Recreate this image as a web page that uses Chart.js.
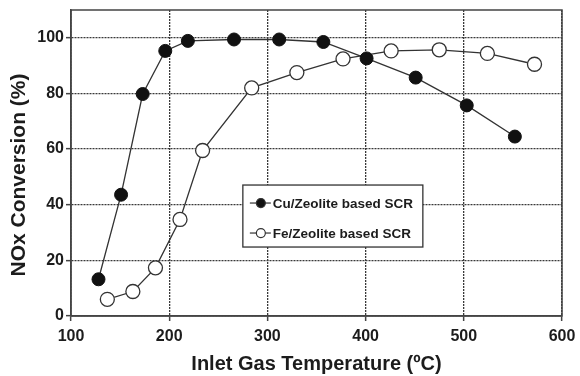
<!DOCTYPE html>
<html>
<head>
<meta charset="UTF-8">
<title>NOx Conversion</title>
<script src="https://cdn.jsdelivr.net/npm/chart.js"></script>
<style type="text/css">
	body { margin: 0; background: #fff; }
	#chartArea { width: 580px; height: 376px; }
</style>
<script>
	// temperature (ºC) / conversion (%) read per catalyst
	var cuTemp = [128, 151, 173, 196, 219, 266, 312, 357, 401, 451, 503, 552];
	var cuConv = [13.2, 43.6, 79.8, 95.3, 98.9, 99.4, 99.4, 98.5, 92.6, 85.7, 75.7, 64.5];
	var feTemp = [137, 163, 186, 211, 234, 284, 330, 377, 426, 475, 524, 572];
	var feConv = [6, 8.8, 17.3, 34.7, 59.5, 82, 87.5, 92.4, 95.3, 95.7, 94.4, 90.5];

	var seriesNames = ['Cu/Zeolite based SCR', 'Fe/Zeolite based SCR'];
	var xTicks = [100, 200, 300, 400, 500, 600];
	var yTicks = [0, 20, 40, 60, 80, 100];
	var xTitle = 'Inlet Gas Temperature (ºC)';
	var yTitle = 'NOx Conversion (%)';

	var ink = '#1c1c1c';
	var gridInk = '#3a3a3a';
	var fontFam = '"Liberation Sans", Arial, sans-serif';

	function toPoints(xs, ys) {
		var pts = [];
		for (var i = 0; i < xs.length; i++) pts.push({x: xs[i], y: ys[i]});
		return pts;
	}

	// box around the plot + rotated y title
	var framePlugin = {
		id: 'frame',
		beforeDatasetsDraw: function(chart) {
			var a = chart.chartArea, ctx = chart.ctx;
			ctx.save();
			ctx.strokeStyle = '#444';
			ctx.lineWidth = 1.5;
			ctx.strokeRect(a.left, a.top, a.right - a.left, a.bottom - a.top);
			ctx.restore();
		},
		afterDraw: function(chart) {
			var a = chart.chartArea, ctx = chart.ctx;
			ctx.save();
			ctx.translate(19, (a.top + a.bottom) / 2 + 12);
			ctx.rotate(-Math.PI / 2);
			ctx.font = 'bold 21px ' + fontFam;
			ctx.fillStyle = ink;
			ctx.textAlign = 'center';
			ctx.textBaseline = 'middle';
			ctx.fillText(yTitle, 0, 0);
			ctx.restore();
		}
	};

	// legend box sitting inside the plot
	var boxLegend = {
		id: 'boxLegend',
		afterDatasetsDraw: function(chart) {
			var a = chart.chartArea, ctx = chart.ctx;
			var w = a.right - a.left, h = a.bottom - a.top;
			var bx = a.left + w * 0.35, by = a.top + h * 0.572;
			var bw = 180, bh = 62;
			ctx.save();
			ctx.fillStyle = '#fff';
			ctx.fillRect(bx, by, bw, bh);
			ctx.strokeStyle = '#333';
			ctx.lineWidth = 1.3;
			ctx.strokeRect(bx, by, bw, bh);
			ctx.font = 'bold 13.5px ' + fontFam;
			ctx.textBaseline = 'middle';
			chart.data.datasets.forEach(function(ds, i) {
				var cy = by + 18 + i * 30;
				ctx.strokeStyle = '#333';
				ctx.lineWidth = 1.2;
				ctx.beginPath();
				ctx.moveTo(bx + 7, cy);
				ctx.lineTo(bx + 28, cy);
				ctx.stroke();
				ctx.beginPath();
				ctx.arc(bx + 18, cy, 4.5, 0, Math.PI * 2);
				ctx.fillStyle = ds.pointBackgroundColor;
				ctx.fill();
				ctx.stroke();
				ctx.fillStyle = ink;
				ctx.fillText(ds.label, bx + 30, cy + 1);
			});
			ctx.restore();
		}
	};

	window.onload = function() {
		var ctx = document.getElementById('myChart').getContext('2d');
		var myChart = new Chart(ctx, {
			type: 'line',
			data: {
				datasets: [{
					label: seriesNames[0],
					data: toPoints(cuTemp, cuConv),
					borderColor: '#333',
					borderWidth: 1.3,
					pointRadius: 6.5,
					pointBackgroundColor: '#111',
					pointBorderColor: '#111',
					pointBorderWidth: 1
				}, {
					label: seriesNames[1],
					data: toPoints(feTemp, feConv),
					borderColor: '#333',
					borderWidth: 1.3,
					pointRadius: 7,
					pointBackgroundColor: '#fff',
					pointBorderColor: '#333',
					pointBorderWidth: 1.3
				}]
			},
			options: {
				responsive: false,
				animation: false,
				layout: { padding: { top: 10, right: 18, left: 0, bottom: 0 } },
				plugins: { legend: { display: false }, tooltip: { enabled: false } },
				scales: {
					x: {
						type: 'linear',
						min: 100, max: 600,
						afterBuildTicks: function(s) { s.ticks = xTicks.map(function(v) { return {value: v}; }); },
						afterFit: function(s) { s.height = 60; s.paddingLeft = 0; s.paddingRight = 0; },
						grid: { color: gridInk, lineWidth: 1.3, tickLength: 5, tickBorderDash: [], tickColor: '#444', tickWidth: 1.5 },
						border: { display: true, color: '#444', width: 1.5, dash: [2, 1] },
						ticks: { color: ink, padding: 6, maxRotation: 0, font: { family: fontFam, size: 16, weight: 'bold' } },
						title: { display: true, text: xTitle, color: ink, padding: 0, font: { family: fontFam, size: 20, weight: 'bold' } }
					},
					y: {
						min: 0, max: 110,
						afterBuildTicks: function(s) { s.ticks = yTicks.map(function(v) { return {value: v}; }); },
						afterFit: function(s) { s.width = 71; s.paddingTop = 0; s.paddingBottom = 0; },
						grid: { color: gridInk, lineWidth: 1.3, tickLength: 5, tickBorderDash: [], tickColor: '#444', tickWidth: 1.5 },
						border: { display: true, color: '#444', width: 1.5, dash: [2, 1] },
						ticks: { color: ink, padding: 2, font: { family: fontFam, size: 16, weight: 'bold' } }
					}
				}
			},
			plugins: [framePlugin, boxLegend]
		});
	};
</script>
</head>
<body>
	<div id="chartArea">
		<canvas id="myChart" width="580" height="376"></canvas>
	</div>
</body>
</html>
